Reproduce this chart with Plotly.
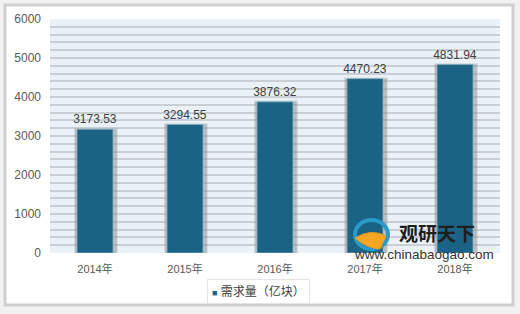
import plotly.graph_objects as go

categories = ["2014年", "2015年", "2016年", "2017年", "2018年"]
values = [3173.53, 3294.55, 3876.32, 4470.23, 4831.94]
series_name = "需求量（亿块）"
y_ticks = [0, 1000, 2000, 3000, 4000, 5000, 6000]

FONT = "Liberation Sans, Arial, Noto Sans CJK SC, sans-serif"
BAR = "#1A6384"

def px(x):
    return (x - 50) / 450

def py(y):
    return (253 - y) / 234

fig = go.Figure()

# shadow behind bars
fig.add_trace(go.Bar(
    x=categories, y=values, width=0.46, offset=-0.22,
    marker=dict(color="rgba(120,120,120,0.40)",
                line=dict(color="rgba(160,160,160,0.30)", width=2.5)),
    showlegend=False, hoverinfo="skip"))

fig.add_trace(go.Bar(
    x=categories, y=values, width=0.4, name=series_name,
    marker=dict(color=BAR, line=dict(color="#8AB0C4", width=0.8)),
    text=[f"{v:.2f}" for v in values], textposition="outside",
    constraintext="none",
    textfont=dict(family=FONT, size=12, color="#404040"),
    cliponaxis=False, showlegend=False))

fig.update_layout(
    width=520, height=314,
    margin=dict(l=50, r=20, t=19, b=61, autoexpand=False),
    paper_bgcolor="#F2F2F2",
    plot_bgcolor="#EAF2F8",
    barmode="overlay",
    showlegend=False,
    font=dict(family=FONT),
    shapes=[
        # outer frame
        dict(type="rect", xref="paper", yref="paper", layer="below",
             x0=px(5), x1=px(513), y0=py(305), y1=py(5),
             line=dict(color="#CFCFCF", width=3), fillcolor="#FFFFFF"),
        # plot area fill
        dict(type="rect", xref="paper", yref="paper", layer="below",
             x0=0, x1=1, y0=0, y1=1,
             line=dict(width=0), fillcolor="#EAF2F8"),
    ],
)

fig.update_xaxes(showgrid=False, showline=False, ticks="",
                 tickfont=dict(family=FONT, size=11, color="#595959"),
                 ticklabelstandoff=8)
fig.update_yaxes(range=[0, 6000], tickvals=y_ticks, showline=False, ticks="",
                 gridcolor="#C9CFD5", gridwidth=1.5, zeroline=False,
                 minor=dict(dtick=200, showgrid=True, gridcolor="#C9CFD5", gridwidth=1.5),
                 tickfont=dict(family=FONT, size=12, color="#595959"),
                 ticklabelstandoff=8)

# legend drawn as a boxed annotation
fig.add_annotation(xref="paper", yref="paper", x=px(258), y=py(291),
                   text=f"<span style='color:{BAR};font-size:9px'>■</span> {series_name}",
                   showarrow=False, xanchor="center", yanchor="middle",
                   bgcolor="#FFFFFF", bordercolor="#E4E4E4", borderwidth=1, borderpad=4,
                   font=dict(family=FONT, size=12, color="#404040"))

# watermark
fig.add_annotation(xref="paper", yref="paper", x=px(397), y=py(232),
                   text="<b>观研天下</b>", showarrow=False, xanchor="left", yanchor="middle",
                   font=dict(family="Noto Sans CJK SC", size=19, color="#1E1E1E"))
fig.add_annotation(xref="paper", yref="paper", x=px(352), y=py(254),
                   text="www.chinabaogao.com", showarrow=False, xanchor="left", yanchor="middle",
                   font=dict(family=FONT, size=13.5, color="#333333"))
fig.add_shape(type="circle", xref="paper", yref="paper",
              x0=px(355), x1=px(388), y0=py(249), y1=py(220),
              line=dict(color="#2A9BC8", width=4), fillcolor="rgba(0,0,0,0)")
fig.add_shape(type="path", xref="paper", yref="paper",
              path=f"M {px(355)},{py(238)} Q {px(371)},{py(228)} {px(386)},{py(236)} L {px(380)},{py(249)} Q {px(366)},{py(248)} {px(355)},{py(238)} Z",
              line=dict(color="#F09A1A", width=1), fillcolor="#F5A623")

fig.write_html("out.html")
